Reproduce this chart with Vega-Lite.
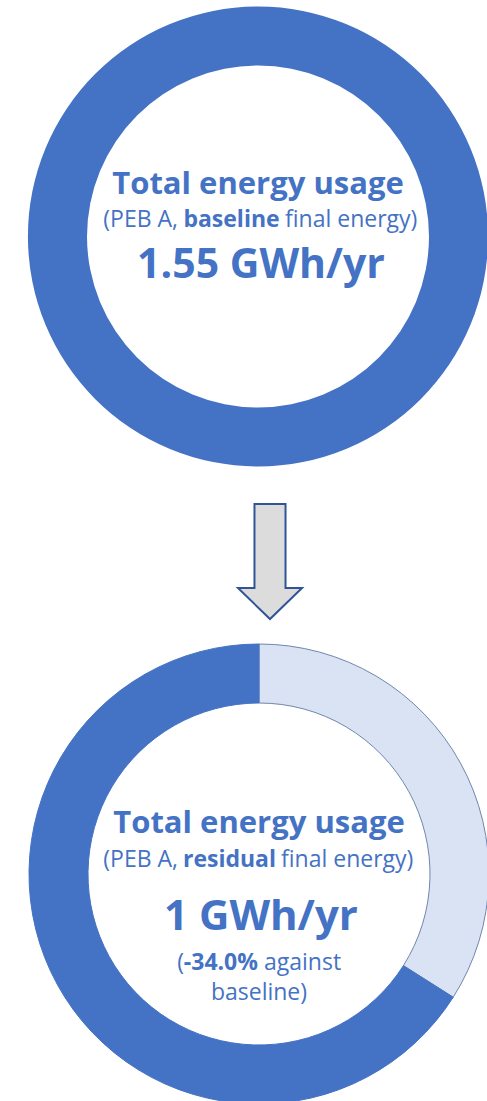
{
  "$schema": "https://vega.github.io/schema/vega-lite/v6.json",
  "background": "white",
  "padding": 0,
  "spacing": 0,
  "bounds": "flush",
  "config": {"view": {"stroke": null}, "concat": {"spacing": 0}},
  "datasets": {
    "rings": [
      {"panel": "baseline", "segment": "Energy use", "value": 1.55, "idx": 1},
      {"panel": "residual", "segment": "Saving", "value": 34.0, "idx": 1},
      {"panel": "residual", "segment": "Energy use", "value": 66.0, "idx": 2}
    ],
    "labels": [
      {"panel": "baseline", "part": "title", "text": "Total energy usage"},
      {"panel": "baseline", "part": "sub1", "text": "(PEB A,"},
      {"panel": "baseline", "part": "sub2", "text": "baseline"},
      {"panel": "baseline", "part": "sub3", "text": "final energy)"},
      {"panel": "baseline", "part": "value", "text": "1.55 GWh/yr"},
      {"panel": "residual", "part": "title", "text": "Total energy usage"},
      {"panel": "residual", "part": "sub1", "text": "(PEB A,"},
      {"panel": "residual", "part": "sub2", "text": "residual"},
      {"panel": "residual", "part": "sub3", "text": "final energy)"},
      {"panel": "residual", "part": "value", "text": "1 GWh/yr"},
      {"panel": "residual", "part": "note1", "text": "("},
      {"panel": "residual", "part": "note2", "text": "-34.0%"},
      {"panel": "residual", "part": "note3", "text": "against"},
      {"panel": "residual", "part": "note4", "text": "baseline)"}
    ],
    "arrow": [{"step": "retrofit"}]
  },
  "vconcat": [
    {
      "width": 516,
      "height": 473,
      "layer": [
        {
          "data": {"name": "rings"},
          "transform": [{"filter": "datum.panel === 'baseline'"}],
          "mark": {"type": "arc", "innerRadius": 171, "outerRadius": 230},
          "encoding": {
            "theta": {"field": "value", "type": "quantitative", "stack": true},
            "order": {"field": "idx", "type": "quantitative"},
            "color": {"field": "segment", "type": "nominal", "scale": {"domain": ["Energy use", "Saving"], "range": ["#4472C4", "#DAE3F3"]}, "legend": null}
          }
        },
        {
          "data": {"name": "labels"},
          "transform": [{"filter": "datum.panel === 'baseline'"}],
          "layer": [
            {"transform": [{"filter": "datum.part === 'title'"}], "mark": {"type": "text", "font": "Open Sans", "fontSize": 31, "fontWeight": "bold", "color": "#4472C4", "align": "center", "baseline": "alphabetic", "dy": -42.5}, "encoding": {"text": {"field": "text"}}},
            {"transform": [{"filter": "datum.part === 'sub1'"}], "mark": {"type": "text", "font": "Open Sans", "fontSize": 23, "color": "#4472C4", "align": "right", "baseline": "alphabetic", "dx": -80, "dy": -9.5}, "encoding": {"text": {"field": "text"}}},
            {"transform": [{"filter": "datum.part === 'sub2'"}], "mark": {"type": "text", "font": "Open Sans", "fontSize": 23, "fontWeight": "bold", "color": "#4472C4", "align": "center", "baseline": "alphabetic", "dx": -26.5, "dy": -9.5}, "encoding": {"text": {"field": "text"}}},
            {"transform": [{"filter": "datum.part === 'sub3'"}], "mark": {"type": "text", "font": "Open Sans", "fontSize": 23, "color": "#4472C4", "align": "left", "baseline": "alphabetic", "dx": 27, "dy": -9.5}, "encoding": {"text": {"field": "text"}}},
            {"transform": [{"filter": "datum.part === 'value'"}], "mark": {"type": "text", "font": "Open Sans", "fontSize": 41, "fontWeight": "bold", "color": "#4472C4", "align": "center", "baseline": "alphabetic", "dx": 3, "dy": 41}, "encoding": {"text": {"field": "text"}}}
          ]
        }
      ]
    },
    {
      "width": 540,
      "height": 177,
      "data": {"name": "arrow"},
      "mark": {
        "type": "point",
        "shape": "M -0.27 -1 L 0.27 -1 L 0.27 0.461 L 0.557 0.461 L 0 1 L -0.557 0.461 L -0.27 0.461 Z",
        "size": 13225,
        "filled": true,
        "fill": "#DCDCDC",
        "stroke": "#2F5597",
        "strokeWidth": 2,
        "opacity": 1,
        "fillOpacity": 1,
        "strokeOpacity": 1
      },
      "encoding": {}
    },
    {
      "width": 518,
      "height": 448,
      "layer": [
        {
          "data": {"name": "rings"},
          "transform": [{"filter": "datum.panel === 'residual'"}],
          "mark": {"type": "arc", "innerRadius": 171, "outerRadius": 230, "strokeWidth": 1},
          "encoding": {
            "theta": {"field": "value", "type": "quantitative", "stack": true},
            "order": {"field": "idx", "type": "quantitative"},
            "color": {"field": "segment", "type": "nominal", "scale": {"domain": ["Energy use", "Saving"], "range": ["#4472C4", "#DAE3F3"]}, "legend": null},
            "stroke": {"field": "segment", "type": "nominal", "scale": {"domain": ["Energy use", "Saving"], "range": ["#4472C4", "#6F86AE"]}, "legend": null}
          }
        },
        {
          "data": {"name": "labels"},
          "transform": [{"filter": "datum.panel === 'residual'"}],
          "layer": [
            {"transform": [{"filter": "datum.part === 'title'"}], "mark": {"type": "text", "font": "Open Sans", "fontSize": 31, "fontWeight": "bold", "color": "#4472C4", "align": "center", "baseline": "alphabetic", "dy": -41}, "encoding": {"text": {"field": "text"}}},
            {"transform": [{"filter": "datum.part === 'sub1'"}], "mark": {"type": "text", "font": "Open Sans", "fontSize": 23, "color": "#4472C4", "align": "right", "baseline": "alphabetic", "dx": -81, "dy": -7.3}, "encoding": {"text": {"field": "text"}}},
            {"transform": [{"filter": "datum.part === 'sub2'"}], "mark": {"type": "text", "font": "Open Sans", "fontSize": 23, "fontWeight": "bold", "color": "#4472C4", "align": "center", "baseline": "alphabetic", "dx": -29.5, "dy": -7.3}, "encoding": {"text": {"field": "text"}}},
            {"transform": [{"filter": "datum.part === 'sub3'"}], "mark": {"type": "text", "font": "Open Sans", "fontSize": 23, "color": "#4472C4", "align": "left", "baseline": "alphabetic", "dx": 22, "dy": -7.3}, "encoding": {"text": {"field": "text"}}},
            {"transform": [{"filter": "datum.part === 'value'"}], "mark": {"type": "text", "font": "Open Sans", "fontSize": 42, "fontWeight": "bold", "color": "#4472C4", "align": "center", "baseline": "alphabetic", "dx": 2, "dy": 56}, "encoding": {"text": {"field": "text"}}},
            {"transform": [{"filter": "datum.part === 'note1'"}], "mark": {"type": "text", "font": "Open Sans", "fontSize": 23, "color": "#4472C4", "align": "right", "baseline": "alphabetic", "dx": -75, "dy": 96}, "encoding": {"text": {"field": "text"}}},
            {"transform": [{"filter": "datum.part === 'note2'"}], "mark": {"type": "text", "font": "Open Sans", "fontSize": 23, "fontWeight": "bold", "color": "#4472C4", "align": "right", "baseline": "alphabetic", "dx": -1, "dy": 96}, "encoding": {"text": {"field": "text"}}},
            {"transform": [{"filter": "datum.part === 'note3'"}], "mark": {"type": "text", "font": "Open Sans", "fontSize": 23, "color": "#4472C4", "align": "left", "baseline": "alphabetic", "dx": 5, "dy": 96}, "encoding": {"text": {"field": "text"}}},
            {"transform": [{"filter": "datum.part === 'note4'"}], "mark": {"type": "text", "font": "Open Sans", "fontSize": 23, "color": "#4472C4", "align": "center", "baseline": "alphabetic", "dy": 126}, "encoding": {"text": {"field": "text"}}}
          ]
        }
      ]
    }
  ]
}
